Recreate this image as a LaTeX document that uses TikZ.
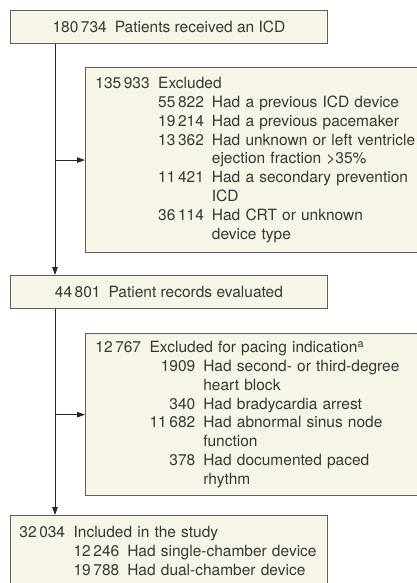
\documentclass[tikz,border=0pt]{standalone}
\usepackage{fontspec}
\setmainfont{TeX Gyre Heros}
\usepackage{tikz}
\usetikzlibrary {arrows.meta}
\usetikzlibrary{calc}

\definecolor{boxfill}{RGB}{247,244,232}
\definecolor{boxline}{RGB}{95,95,95}
\definecolor{boxtext}{RGB}{55,55,55}

\tikzset{
	flowbox/.style={draw=boxline, fill=boxfill, line width=0.9pt, text=boxtext, anchor=north west,
		font=\fontsize{15.5}{18.8}\selectfont, inner ysep=0pt},
	listbox/.style={flowbox, align=left, inner xsep=10pt, inner ysep=8pt},
	flow/.style={draw=black!85, line width=0.9pt, -{Triangle[length=8pt, width=5.5pt]}}
}

\newcommand{\countlist}[1]{\begin{tabular}{@{}l@{\hspace{8.5pt}}r@{\hspace{8pt}}l@{}}#1\end{tabular}}

\begin{document}
\begin{tikzpicture}[x=1pt, y=-1pt]
	\path[use as bounding box] (0, 0) rectangle (417, 583);
	\clip (0, 0) rectangle (417, 583);

	\node[flowbox, minimum width=317pt, minimum height=33pt] (received) at (10, 10) {180\,734\hspace{8pt}Patients received an ICD};
	\node[listbox, text width=322pt] (excluded) at (85, 67) {\countlist{
		135\,933 & \multicolumn{2}{@{}l@{}}{Excluded}\\
		& 55\,822 & Had a previous ICD device\\
		& 19\,214 & Had a previous pacemaker\\
		& 13\,362 & Had unknown or left ventricle\\
		& & ejection fraction >35\%\\
		& 11\,421 & Had a secondary prevention\\
		& & ICD\\
		& 36\,114 & Had CRT or unknown\\
		& & device type}};
	\node[flowbox, minimum width=317pt, minimum height=33.3pt] (evaluated) at (10, 275) {44\,801\hspace{8pt}Patient records evaluated};
	\node[listbox, text width=322pt, inner ysep=6pt] (pacing) at (85, 333) {\countlist{
		12\,767 & \multicolumn{2}{@{}l@{}}{Excluded for pacing indication\textsuperscript{a}}\\
		& 1909 & Had second- or third-degree\\
		& & heart block\\
		& 340 & Had bradycardia arrest\\
		& 11\,682 & Had abnormal sinus node\\
		& & function\\
		& 378 & Had documented paced\\
		& & rhythm}};
	\node[listbox, text width=299pt, inner xsep=9pt, inner ysep=9pt] (included) at (10, 515) {\countlist{
		32\,034 & \multicolumn{2}{@{}l@{}}{Included in the study}\\
		& 12\,246 & Had single-chamber device\\
		& 19\,788 & Had dual-chamber device}};

	\coordinate (spine) at (55, 0);
	\draw[flow] (received.south -| spine) -- (evaluated.north -| spine);
	\draw[flow] (excluded.west -| spine) -- (excluded.west);
	\draw[flow] (evaluated.south -| spine) -- (included.north -| spine);
	\draw[flow] (pacing.west -| spine) -- (pacing.west);
\end{tikzpicture}
\end{document}
